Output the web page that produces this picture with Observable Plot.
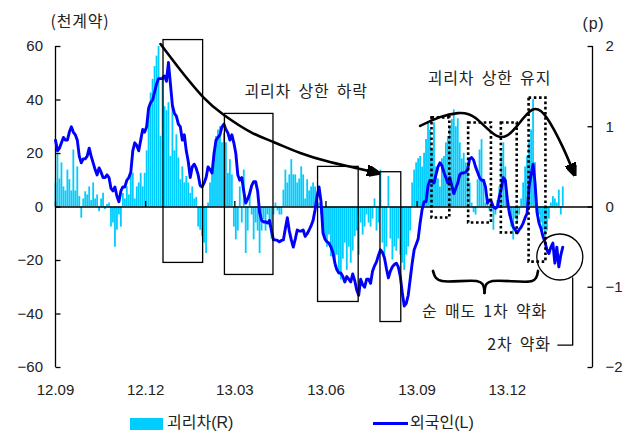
<!DOCTYPE html>
<html>
<head>
<meta charset="utf-8">
<script src="https://cdn.jsdelivr.net/npm/d3@7"></script>
<script src="https://cdn.jsdelivr.net/npm/@observablehq/plot@0.6"></script>
<style>
  html, body { margin: 0; padding: 0; background: #fff; }
  #wrap { position: relative; width: 624px; height: 435px; overflow: hidden; }
  #legend { position: absolute; left: 0; top: 405px; width: 624px; height: 30px;
            font: 16px "Liberation Sans", "Noto Sans CJK KR", sans-serif; color: #222; }
  #legend .item { position: absolute; top: 8px; line-height: 20px; white-space: nowrap; }
  #legend .swatch { display: inline-block; vertical-align: middle; margin-right: 4px; }
  svg g[aria-label="text"] text { word-spacing: 3px; letter-spacing: 0.8px; }
</style>
</head>
<body>
<div id="wrap"><div id="chart"></div><div id="legend"></div></div>
<script>
// Daily sampling every 2 days from 2012-09-01
const startDate = "2012-09-01";
const stepDays = 2;

// 외국인 누적 순매수 (천계약, left axis)
const foreign = [
  25,21,22,24,26,25,25,28,30,28,
  27,25,19,16.5,18,18,19,22,19,16.5,
  14,12,14.6,13,11,11,12,11,7,6,
  7.5,4,2,6,7.5,7.5,10,11,13,21,
  24,23,21,25,29,28,30,37,39,40,
  43,46,48,48,48,49,47,54,46,38,
  35,34,31,30,25,27,21,17,11,15,
  16,14.5,12,8,7.5,9,11,15,14,12.7,
  20,25,26,27,30,31,29,27.7,25,27,
  24,20,12,10,11,6,1.5,3,5,8,
  9.5,9.5,6,-2,-5,-5.6,-5.5,-6,-5,-9,
  -12.3,-12.3,-12.5,-13,-12.5,-12.3,-8,-4,-9,-12.3,
  -15,-12,-8.6,-9,-9,-8.6,-11,-10,-8.6,-7,
  -5,-1,4,7.5,2,-9.7,-12,-13,-13.5,-15,
  -17,-21,-23.5,-24.7,-24.7,-26,-28,-26,-27,-28,
  -25,-27.5,-31,-33,-27,-29,-30,-27,-27,-28.5,
  -24,-22,-20.5,-18,-16,-17,-19,-23,-26.5,-24,
  -22.4,-21.5,-21,-22.4,-26,-32,-37,-36,-33,-27,
  -21,-16,-14,-12,-6,-1,2,2,8,10,
  9.5,9,12,15,16.5,15.5,13,11,9,11,
  8,5,7,9,12,12.7,12.7,13,14,18,
  18.5,17.5,15,13,11,10,10,7.5,1.5,2.6,
  2,0,-0.5,0,4,7,11,10,3,-2,
  -5,-7.5,-8.5,-9.7,-8.5,-7.5,-6,-4,-2.4,7.5,
  12,16,9,-2,-6,-8,-11,-13,-16,-17.4,
  -15,-13.5,-21,-15,-22.4,-18,-15
];

// 괴리차 (p, right axis)
const basis = [
  0.3,0.67,0.35,0.55,0.25,0.2,0.46,0.34,0.2,0.71,
  0.2,0.5,0.13,-0.14,0.1,0.19,0.15,0.25,0.08,0.3,
  0.1,0.15,-0.06,0.1,0.17,-0.03,0.03,0.05,-0.25,-0.2,
  -0.5,-0.29,-0.1,-0.25,0.17,0.1,0.25,0.15,0.42,0.42,
  0.1,0.25,0.3,0.42,0.25,0.42,0.7,1.17,1.42,1.59,
  1.75,1.88,2.0,0.88,1.63,1.25,1.2,1.3,0.63,1.25,
  0.7,0.9,0.61,0.34,0.5,0.3,0.38,0.3,0.17,0.25,
  0.1,0.12,-0.25,-0.29,-0.37,-0.45,-0.58,0.05,0.3,0.46,
  0.67,0.88,0.96,1.0,0.8,0.92,0.8,0.42,0.59,0.4,
  -0.25,-0.41,-0.3,0.25,-0.2,0.46,-0.58,-0.3,0.2,-0.1,
  -0.41,-0.2,-0.3,-0.58,-0.3,-0.16,-0.3,-0.1,-0.25,-0.4,
  -0.1,0.05,-0.05,-0.1,-0.1,0.21,0.46,0.3,0.4,0.59,
  0.4,0.4,0.3,0.35,0.5,0.4,0.1,0.34,0.2,0.25,
  0.3,0.25,0.15,0.05,-0.1,-0.25,-0.41,-0.5,-0.35,-0.62,
  -0.6,-0.75,-0.6,-0.83,-0.91,-0.65,-0.45,-0.79,-0.5,-0.7,
  -0.55,-0.37,-0.3,-0.6,-0.2,-0.35,-0.25,-0.1,-0.2,-0.25,
  -0.15,0.1,-0.3,-0.2,0.46,-0.45,-0.6,-0.5,0.38,-0.4,
  -0.66,-0.5,-0.55,-0.4,-0.6,-0.7,-0.79,-0.6,-0.5,-0.3,
  0.3,0.46,0.55,0.6,0.63,0.5,0.67,0.84,1.05,0.96,
  0.7,1.05,0.5,0.35,0.25,0.6,0.63,0.8,0.88,1.0,
  1.09,1.21,1.0,1.1,0.8,0.6,0.67,0.55,0.5,0.3,
  0.05,-0.07,-0.1,0.34,0.71,0.84,0.34,0.05,0.08,-0.05,
  -0.03,-0.29,-0.1,0.08,0.25,0.67,0.8,0.5,0.13,-0.12,
  -0.25,-0.41,-0.15,-0.2,-0.1,0.1,0.3,0.5,0.63,0.8,
  0.96,1.34,0.55,0.03,-0.1,-0.2,-0.29,-0.37,-0.3,-0.15,
  0.05,0.13,0.1,0.05,0.21,-0.1,0.25
];

const seriesNames = ["괴리차(R)", "외국인(L)"];
const colors = { basis: "#00ccff", foreign: "#0000ff" };

// Axis ticks
const xDomain = ["2012-09-01", "2014-02-25"];
const xTickDates = ["2012-09-01", "2012-12-01", "2013-03-01", "2013-06-01", "2013-09-01", "2013-12-01"];
const leftTicks = [-60, -40, -20, 0, 20, 40, 60];
const rightTicks = [-2, -1, 0, 1, 2];
const rightPerLeft = 30; // 1p on the right axis = 30천계약 on the left axis

// Annotations (dates and left-axis values)
const solidBoxes = [
  { x1: "2012-12-19", x2: "2013-01-28", y1: -20.9, y2: 62.4 },
  { x1: "2013-02-19", x2: "2013-04-09", y1: -25.4, y2: 34.8 },
  { x1: "2013-05-24", x2: "2013-07-04", y1: -35.5, y2: 15 },
  { x1: "2013-07-26", x2: "2013-08-16", y1: -43, y2: 13 }
];
const dottedBoxes = [
  { x1: "2013-09-16", x2: "2013-10-04", y1: -4.1, y2: 33.3 },
  { x1: "2013-10-23", x2: "2013-11-15", y1: -6, y2: 31.4 },
  { x1: "2013-11-25", x2: "2013-12-11", y1: -9.7, y2: 31.4 },
  { x1: "2013-12-23", x2: "2014-01-09", y1: -20.6, y2: 40.7 }
];
const declineCurve = [
  ["2012-12-16", 60.9], ["2013-01-05", 51.2], ["2013-01-28", 41.1], ["2013-02-18", 34.4],
  ["2013-03-17", 28], ["2013-04-09", 24.3], ["2013-05-06", 20.2], ["2013-06-05", 16.8],
  ["2013-07-01", 14.6], ["2013-07-19", 13.1]
];
const holdCurve = [
  ["2013-09-04", 30.3], ["2013-09-24", 33.6], ["2013-10-12", 35.1], ["2013-10-30", 33.3],
  ["2013-11-21", 26.5], ["2013-12-09", 29.5], ["2013-12-26", 36.3], ["2014-01-10", 33.3],
  ["2014-01-26", 22.4], ["2014-02-05", 13.8]
];
const brace = [
  [["2013-09-17", -23.9], ["2013-09-20", -26.5], ["2013-09-26", -27.7], ["2013-10-31", -27.7], ["2013-11-06", -28.8], ["2013-11-08", -32.1]],
  [["2013-11-08", -32.1], ["2013-11-10", -28.8], ["2013-11-16", -27.7], ["2013-12-26", -27.7], ["2013-12-30", -26.5], ["2014-01-01", -23.9]]
];
const circleMark = { x: "2014-01-23", y: -18.7 };
const leader = [["2014-02-05", -26.5], ["2014-02-05", -51.6], ["2014-01-21", -51.6]];
const centeredNotes = [
  { x: "2013-05-12", y: 43, text: "괴리차 상한 하락" },
  { x: "2013-11-13", y: 47.9, text: "괴리차 상한 유지" },
  { x: "2013-11-08", y: -39.3, text: "순 매도 1차 약화" }
];
const leaderNote = { x: "2014-01-14", y: -51.6, text: "2차 약화" };

const D = (s) => new Date(s);
const t0 = D(startDate);
const rows = foreign.map((v, i) => ({
  date: d3.utcDay.offset(t0, i * stepDays),
  foreign: v,
  basis: basis[i]
}));

// Filled triangular arrowhead for the annotation curves
function arrowHead() {
  const ns = "http://www.w3.org/2000/svg";
  const m = document.createElementNS(ns, "marker");
  m.setAttribute("viewBox", "-6 -5 12 10");
  m.setAttribute("markerUnits", "userSpaceOnUse");
  m.setAttribute("markerWidth", 13);
  m.setAttribute("markerHeight", 11);
  m.setAttribute("refX", 0);
  m.setAttribute("refY", 0);
  m.setAttribute("orient", "auto");
  const p = document.createElementNS(ns, "path");
  p.setAttribute("d", "M-6,-5L6,0L-6,5Z");
  p.setAttribute("fill", "#000");
  m.appendChild(p);
  return m;
}

// Short tick symbols
const tickRight = { draw(ctx) { ctx.moveTo(0, 0); ctx.lineTo(5, 0); } };
const tickLeft = { draw(ctx) { ctx.moveTo(0, 0); ctx.lineTo(-5, 0); } };
const tickUp = { draw(ctx) { ctx.moveTo(0, 0); ctx.lineTo(0, -6); } };

const korean = "'Noto Sans CJK KR', sans-serif";
const fmtInt = d3.format("d");

const chart = Plot.plot({
  width: 624,
  height: 405,
  marginLeft: 55,
  marginRight: 32,
  marginTop: 46,
  marginBottom: 38,
  x: { type: "utc", domain: xDomain.map(D) },
  y: { domain: [-60, 60] },
  style: { fontFamily: "'Liberation Sans', 'Noto Sans CJK KR', sans-serif", fontSize: "15px", color: "#222", background: "#fff" },
  marks: [
    // 괴리차 bars on the right-axis scale
    Plot.ruleX(rows, { x: "date", y1: 0, y2: (d) => d.basis * rightPerLeft, stroke: colors.basis, strokeWidth: 1.8 }),
    // zero line
    Plot.ruleY([0], { stroke: "#000", strokeWidth: 1.6 }),
    // axis lines
    Plot.ruleX([D(xDomain[0])], { y1: -60, y2: 60, stroke: "#000", strokeWidth: 1.3 }),
    Plot.ruleX([D(xDomain[1])], { y1: -60, y2: 60, stroke: "#000", strokeWidth: 1.3 }),
    // inward tick marks
    Plot.dot(leftTicks, { y: (d) => d, frameAnchor: "left", symbol: tickRight, fill: "none", stroke: "#000", strokeWidth: 1.3 }),
    Plot.dot(rightTicks, { y: (d) => d * rightPerLeft, frameAnchor: "right", symbol: tickLeft, fill: "none", stroke: "#000", strokeWidth: 1.3 }),
    Plot.dot(xTickDates, { x: (d) => D(d), y: 0, symbol: tickUp, fill: "none", stroke: "#000", strokeWidth: 1.3 }),
    // tick labels
    Plot.axisY(leftTicks, { anchor: "left", tickSize: 0, tickPadding: 12.5, tickFormat: fmtInt, label: null }),
    Plot.axisY(rightTicks.map((d) => d * rightPerLeft), { anchor: "right", tickSize: 0, tickPadding: 13, tickFormat: (d) => fmtInt(d / rightPerLeft), label: null }),
    Plot.axisX(xTickDates.map(D), { anchor: "bottom", tickSize: 0, tickPadding: 17, tickFormat: d3.utcFormat("%y.%m"), label: null }),
    // unit labels
    Plot.text(["(천계약)"], { frameAnchor: "top-left", dx: -5, dy: -31, fontSize: 16, fontFamily: korean, fill: "#222" }),
    Plot.text(["(p)"], { frameAnchor: "top-right", dx: 12, dy: -29, fontSize: 16, fill: "#222" }),
    // 외국인 line
    Plot.line(rows, { x: "date", y: "foreign", stroke: colors.foreign, strokeWidth: 2.9, strokeLinejoin: "round" }),
    // highlighted periods
    Plot.rect(solidBoxes, { x1: (d) => D(d.x1), x2: (d) => D(d.x2), y1: "y1", y2: "y2", fill: "none", stroke: "#000", strokeWidth: 1.3 }),
    Plot.rect(dottedBoxes, { x1: (d) => D(d.x1), x2: (d) => D(d.x2), y1: "y1", y2: "y2", fill: "none", stroke: "#000", strokeWidth: 2.6, strokeDasharray: "2.6,2.6" }),
    // trend arrows
    Plot.line(declineCurve, { x: (d) => D(d[0]), y: (d) => d[1], curve: "natural", stroke: "#000", strokeWidth: 2.6, markerEnd: arrowHead }),
    Plot.line(holdCurve, { x: (d) => D(d[0]), y: (d) => d[1], curve: "natural", stroke: "#000", strokeWidth: 2.6, markerEnd: arrowHead }),
    // brace under the first weakening period
    ...brace.map((pts) => Plot.line(pts, { x: (d) => D(d[0]), y: (d) => d[1], curve: "catmull-rom", stroke: "#000", strokeWidth: 2.6 })),
    // second weakening circle and leader
    Plot.dot([circleMark], { x: (d) => D(d.x), y: "y", r: 23, fill: "none", stroke: "#000", strokeWidth: 1.3 }),
    Plot.line(leader, { x: (d) => D(d[0]), y: (d) => d[1], stroke: "#000", strokeWidth: 1.3 }),
    // notes
    Plot.text(centeredNotes, { x: (d) => D(d.x), y: "y", text: "text", textAnchor: "middle", fontSize: 16, fontFamily: korean, fill: "#222" }),
    Plot.text([leaderNote], { x: (d) => D(d.x), y: "y", text: "text", textAnchor: "end", fontSize: 16, fontFamily: korean, fill: "#222" })
  ]
});
document.getElementById("chart").appendChild(chart);

// Legend below the chart
const legend = d3.select("#legend");
const item0 = legend.append("div").attr("class", "item").style("left", "130px");
item0.append("span").attr("class", "swatch").style("width", "33px").style("height", "12px").style("background", colors.basis);
item0.append("span").text(seriesNames[0]);
const item1 = legend.append("div").attr("class", "item").style("left", "373px");
item1.append("span").attr("class", "swatch").style("width", "35px").style("height", "3px").style("background", colors.foreign).style("margin-right", "2px");
item1.append("span").text(seriesNames[1]);
</script>
</body>
</html>
